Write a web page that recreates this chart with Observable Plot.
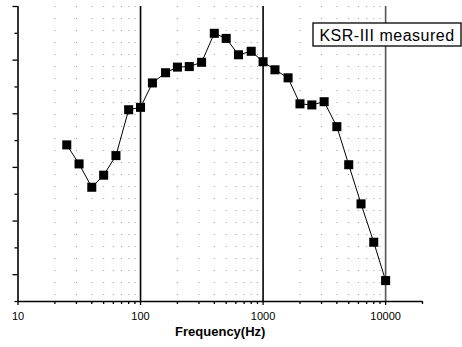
<!DOCTYPE html>
<html><head><meta charset="utf-8">
<script src="https://cdn.jsdelivr.net/npm/d3@7"></script>
<script src="https://cdn.jsdelivr.net/npm/@observablehq/plot@0.6"></script>
<style>body{margin:0;background:#fff;} #chart svg{display:block;}</style>
</head><body><div id="chart"></div>
<script>
const frequencies = [25,31.5,40,50,63,80,100,125,160,200,250,315,400,500,630,800,1000,1250,1600,2000,2500,3150,4000,5000,6300,8000,10000];
const levels = [5.84,5.13,4.26,4.71,5.44,7.15,7.24,8.15,8.53,8.74,8.76,8.92,10.00,9.81,9.20,9.33,8.94,8.64,8.34,7.37,7.33,7.45,6.52,5.10,3.64,2.21,0.78];
const seriesName = "KSR-III measured";
const xAxisTitle = "Frequency(Hz)";
const xTickLabels = [10,100,1000,10000];
const xMinorTicks = [20,30,40,50,60,70,80,90,200,300,400,500,600,700,800,900,2000,3000,4000,5000,6000,7000,8000,9000,20000];
const yMajorTicks = [1,3,5,7,9,11];
const yMinorTicks = [0,2,4,6,8,10];

const data = frequencies.map((f, i) => ({f, v: levels[i]}));
const font = "'Liberation Sans', Arial, sans-serif";

const plot = Plot.plot({
  width: 462, height: 347,
  marginLeft: 17.5, marginRight: 40, marginTop: 6, marginBottom: 46,
  x: {type: "log", domain: [10, 20000]},
  y: {domain: [0, 11]},
  style: {fontFamily: font, background: "#fff", color: "#000", overflow: "visible"},
  marks: [
    Plot.ruleX(xMinorTicks.slice(0, -1), {stroke: "#999", strokeWidth: 1, strokeDasharray: "1,11"}),
    Plot.ruleX([100, 1000], {stroke: "#000", strokeWidth: 1.6}),
    Plot.ruleX([10000], {stroke: "#555", strokeWidth: 1.6}),
    Plot.ruleX([10], {stroke: "#000", strokeWidth: 1.6}),
    Plot.ruleY([0], {stroke: "#000", strokeWidth: 1.6}),
    Plot.axisX(xTickLabels, {tickSize: 4, tickFormat: () => "", label: null, strokeWidth: 1.3}),
    Plot.axisX(xMinorTicks, {tickSize: 3, tickFormat: () => "", label: null, strokeWidth: 1.3}),
    Plot.axisX(xTickLabels, {tickSize: 0, tickPadding: 11, fontSize: 11, tickFormat: d => String(d), label: null}),
    Plot.axisY(yMajorTicks, {tickSize: 5, tickFormat: () => "", label: null, strokeWidth: 1.3}),
    Plot.axisY(yMinorTicks, {tickSize: 3, tickFormat: () => "", label: null, strokeWidth: 1.3}),
    Plot.line(data, {x: "f", y: "v", stroke: "#000", strokeWidth: 1}),
    Plot.dot(data, {x: "f", y: "v", symbol: "square", r: 5.1, fill: "#000", stroke: "none"}),
    Plot.text([xAxisTitle], {frameAnchor: "bottom", dy: 30, lineAnchor: "middle", fontSize: 13, fontWeight: "bold", fill: "#000"})
  ]
});

document.getElementById("chart").appendChild(plot);

// legend box
const svg = d3.select(plot);
const g = svg.append("g").attr("font-family", font);
g.append("rect")
  .attr("x", 313).attr("y", 23)
  .attr("width", 148).attr("height", 23)
  .attr("fill", "#fff").attr("stroke", "#000").attr("stroke-width", 1.3);
g.append("text")
  .attr("x", 387).attr("y", 40.5)
  .attr("text-anchor", "middle")
  .attr("font-size", 16)
  .attr("letter-spacing", "0.5px")
  .attr("fill", "#000")
  .text(seriesName);
</script>
</body></html>
